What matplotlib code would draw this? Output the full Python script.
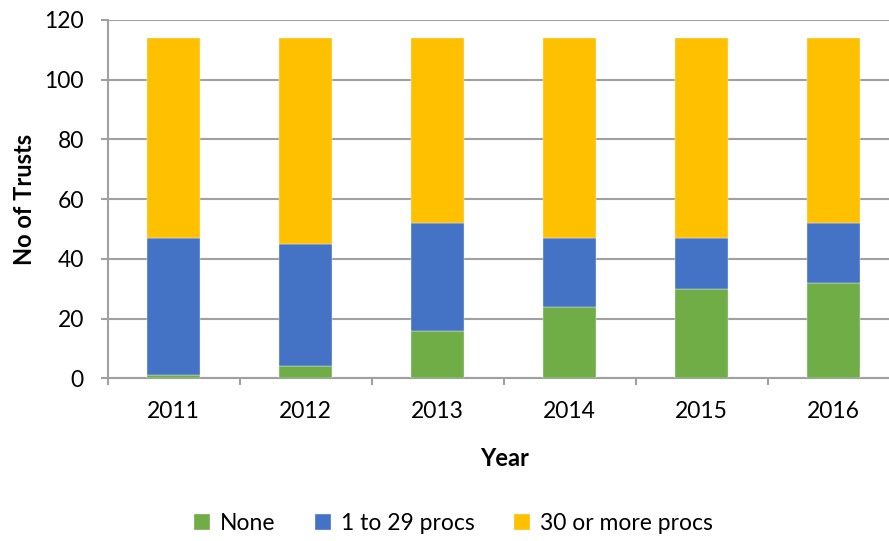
import matplotlib.pyplot as plt
import numpy as np

years = ['2011', '2012', '2013', '2014', '2015', '2016']
none_vals = [1, 4, 16, 24, 30, 32]
low_vals = [46, 41, 36, 23, 17, 20]
high_vals = [67, 69, 62, 67, 67, 62]

series_names = ['None', '1 to 29 procs', '30 or more procs']
colors = ['#70AD47', '#4472C4', '#FFC000']

plt.rcParams['font.family'] = ['Lato', 'DejaVu Sans']

fig = plt.figure(figsize=(8.89, 5.41), dpi=100)
ax = fig.add_axes([0.121, 0.3007, 0.891, 0.6624])

x = np.arange(len(years))
bottom = np.zeros(len(years))
for vals, name, c in zip([none_vals, low_vals, high_vals], series_names, colors):
    ax.bar(x, vals, width=0.404, bottom=bottom, color=c, label=name,
           edgecolor='#E8EEF8', linewidth=0.3, zorder=3)
    bottom += np.array(vals)

ax.set_xlim(-0.5, 5.5)
ax.set_ylim(0, 120)
ax.set_yticks(range(0, 121, 20))
ax.yaxis.grid(True, color='#A0A0A0', linewidth=1.5, zorder=0)
ax.set_axisbelow(True)

ax.set_xticks(x)
ax.set_xticklabels(years, fontsize=16.5)
ax.set_xticks(np.arange(-0.5, 6, 1), minor=True)
ax.tick_params(axis='x', which='major', length=0, pad=16)
ax.tick_params(axis='x', which='minor', length=5, width=1.5, color='#A0A0A0')
ax.tick_params(axis='y', length=5, width=1.5, color='#A0A0A0', labelsize=16.5, pad=12)

for s in ['top', 'right']:
    ax.spines[s].set_visible(False)
for s in ['left', 'bottom']:
    ax.spines[s].set_color('#A0A0A0')
    ax.spines[s].set_linewidth(1.5)

ax.set_ylabel('No of Trusts', fontsize=17, fontweight='bold', labelpad=6)
fig.text(0.567, 0.152, 'Year', fontsize=17, fontweight='bold', ha='center', va='center')

fig.legend(loc='center', bbox_to_anchor=(0.51, 0.033), ncol=3, frameon=False,
           fontsize=16.5, handlelength=0.7, handleheight=0.7, columnspacing=1.7,
           handletextpad=0.45)

fig.savefig('out.png', dpi=100)
